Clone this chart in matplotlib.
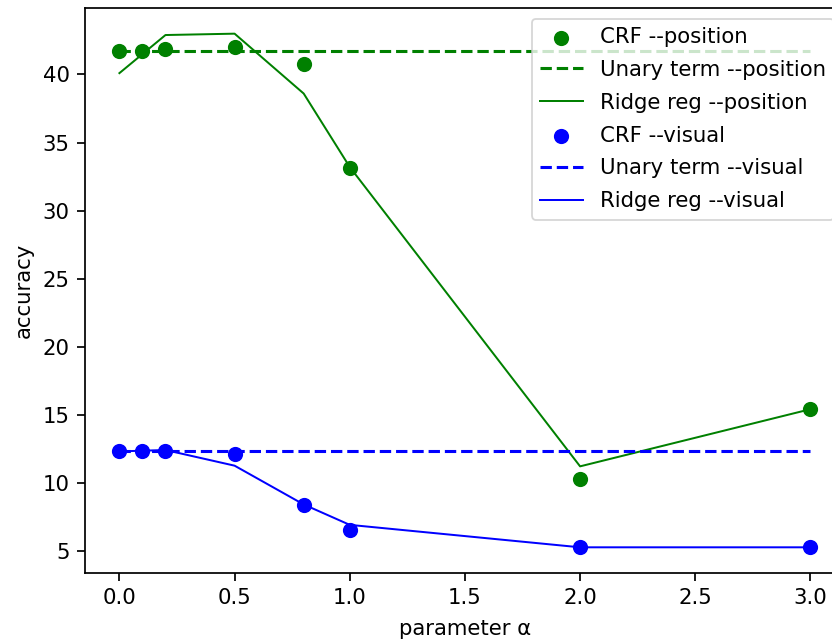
import numpy as np
import matplotlib
matplotlib.use("Agg")
import matplotlib.pyplot as plt

# parameter alpha values
alpha = [0.0, 0.1, 0.2, 0.5, 0.8, 1.0, 2.0, 3.0]

# position features
crf_pos = [41.7, 41.7, 41.9, 42.0, 40.8, 33.1, 10.3, 15.4]
unary_pos = [41.7] * len(alpha)
ridge_pos = [40.1, 41.5, 42.9, 43.0, 38.6, 33.2, 11.2, 15.4]

# visual features
crf_vis = [12.3, 12.3, 12.3, 12.1, 8.35, 6.55, 5.25, 5.25]
unary_vis = [12.35] * len(alpha)
ridge_vis = [12.3, 12.35, 12.4, 11.25, 8.4, 6.9, 5.25, 5.25]


def style():
    k = 1.2
    plt.rcParams["font.size"] = 11.8
    plt.rcParams["axes.linewidth"] = 0.8 * k
    plt.rcParams["legend.labelspacing"] = 0.6
    for ax in ("xtick", "ytick"):
        plt.rcParams[ax + ".major.size"] = 3.5 * k
        plt.rcParams[ax + ".major.width"] = 0.8 * k
        plt.rcParams[ax + ".major.pad"] = 3.5 * k


def main():
    style()
    fig = plt.figure(figsize=(832 / 130, 639 / 130), dpi=130)
    ax = fig.add_axes([0.102, 0.1033, 0.9136, 0.8842])

    ax.scatter(alpha, crf_pos, color="green", s=55, label="CRF --position")
    ax.plot(alpha, unary_pos, "--", color="green", linewidth=1.7, label="Unary term --position")
    ax.plot(alpha, ridge_pos, "-", color="green", linewidth=1.1, label="Ridge reg --position")
    ax.scatter(alpha, crf_vis, color="blue", s=55, label="CRF --visual")
    ax.plot(alpha, unary_vis, "--", color="blue", linewidth=1.7, label="Unary term --visual")
    ax.plot(alpha, ridge_vis, "-", color="blue", linewidth=1.1, label="Ridge reg --visual")

    ax.set_xlabel("parameter α", labelpad=6)
    ax.set_ylabel("accuracy", labelpad=5)
    ax.legend(loc="upper right")
    fig.savefig("out.png", dpi=130)


if __name__ == "__main__":
    main()
